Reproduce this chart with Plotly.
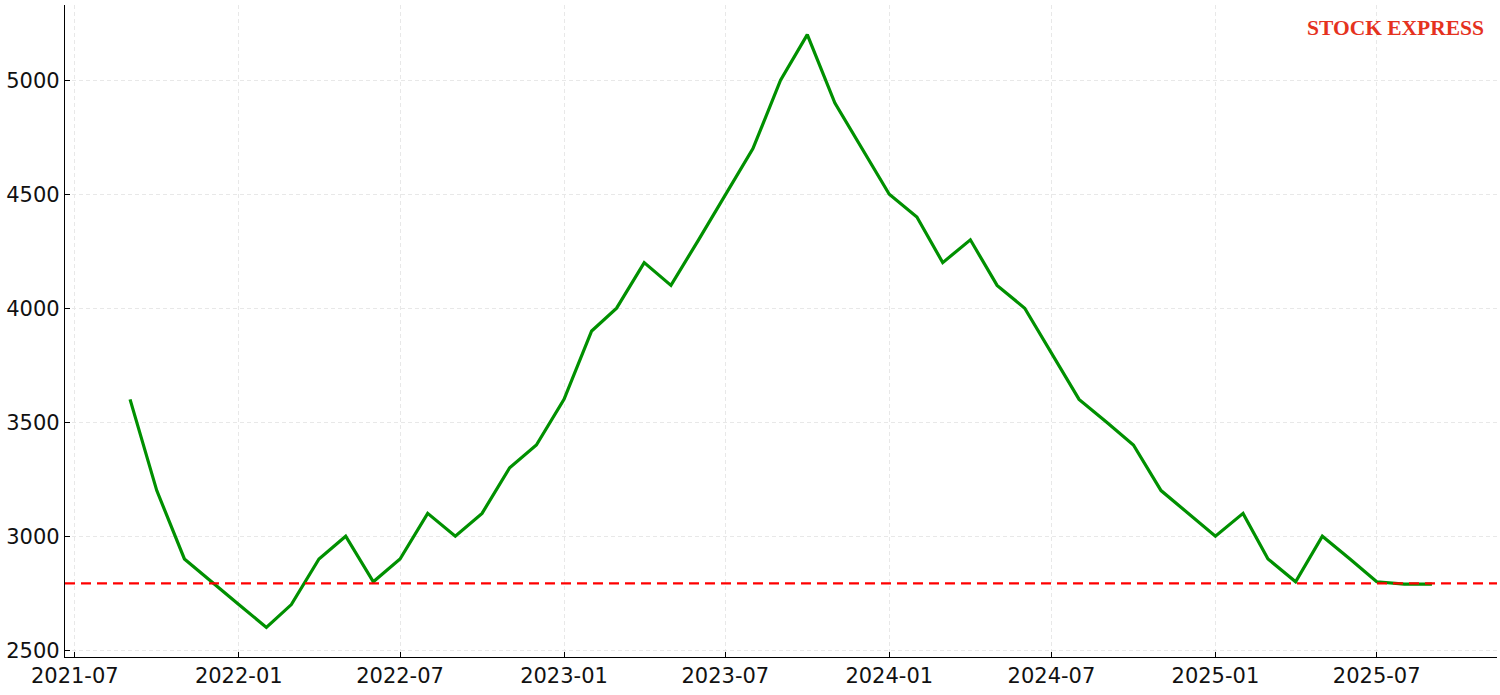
import plotly.graph_objects as go
import pandas as pd

dates = pd.date_range("2021-09-01", "2025-09-01", freq="MS").strftime("%Y-%m-%d").tolist()
values = [3600, 3200, 2900, 2800, 2700, 2600, 2700, 2900, 3000, 2800, 2900, 3100,
          3000, 3100, 3300, 3400, 3600, 3900, 4000, 4200, 4100, 4300, 4500, 4700,
          5000, 5200, 4900, 4700, 4500, 4400, 4200, 4300, 4100, 4000, 3800, 3600,
          3500, 3400, 3200, 3100, 3000, 3100, 2900, 2800, 3000, 2900, 2800, 2790, 2790]
ref_level = 2793
y_ticks = [2500, 3000, 3500, 4000, 4500, 5000]
x_title = "日期"
brand = "STOCK EXPRESS"

fig = go.Figure()
fig.add_trace(go.Scatter(x=dates, y=values, mode="lines",
                         line=dict(color="#009000", width=3.2), showlegend=False))
fig.add_hline(y=ref_level, line=dict(color="#ff0000", width=2.2, dash="10px,6px"))

font_main = "DejaVu Sans, sans-serif"
fig.update_layout(
    width=1500, height=695,
    margin=dict(l=65, r=3, t=5, b=38, autoexpand=False),
    paper_bgcolor="white", plot_bgcolor="white",
    font=dict(family=font_main, size=21, color="#111111"),
    xaxis=dict(
        type="date", automargin=False,
        range=["2021-06-20", "2025-11-13"],
        tick0="2021-07-01", dtick="M6", tickformat="%Y-%m",
        showgrid=True, gridcolor="#e8e8e8", griddash="4px,3px", gridwidth=0.8,
        showline=True, linecolor="black", linewidth=1.3,
        ticks="inside", ticklen=5, tickcolor="black",
        zeroline=False,
    ),
    yaxis=dict(
        automargin=False,
        range=[2470, 5330],
        tickvals=y_ticks,
        showgrid=True, gridcolor="#e8e8e8", griddash="4px,3px", gridwidth=0.8,
        showline=True, linecolor="black", linewidth=1.3,
        ticks="inside", ticklen=5, tickcolor="black",
        zeroline=False,
    ),
    annotations=[
        dict(text="<b>" + brand + "</b>", xref="paper", yref="paper",
             x=0.9925, y=0.965, xanchor="right", yanchor="middle", showarrow=False,
             font=dict(family="Liberation Serif, Times New Roman, serif", size=21.5, color="#e5321e")),
        dict(text=x_title, xref="paper", yref="paper", x=0.5, y=-0.053,
             xanchor="center", yanchor="top", showarrow=False,
             font=dict(family="Noto Sans CJK SC", size=20, color="#333333")),
    ],
)

fig.write_html("out.html", config={"displayModeBar": False},
               post_script="document.body.style.margin='0';document.body.style.overflow='hidden';")
